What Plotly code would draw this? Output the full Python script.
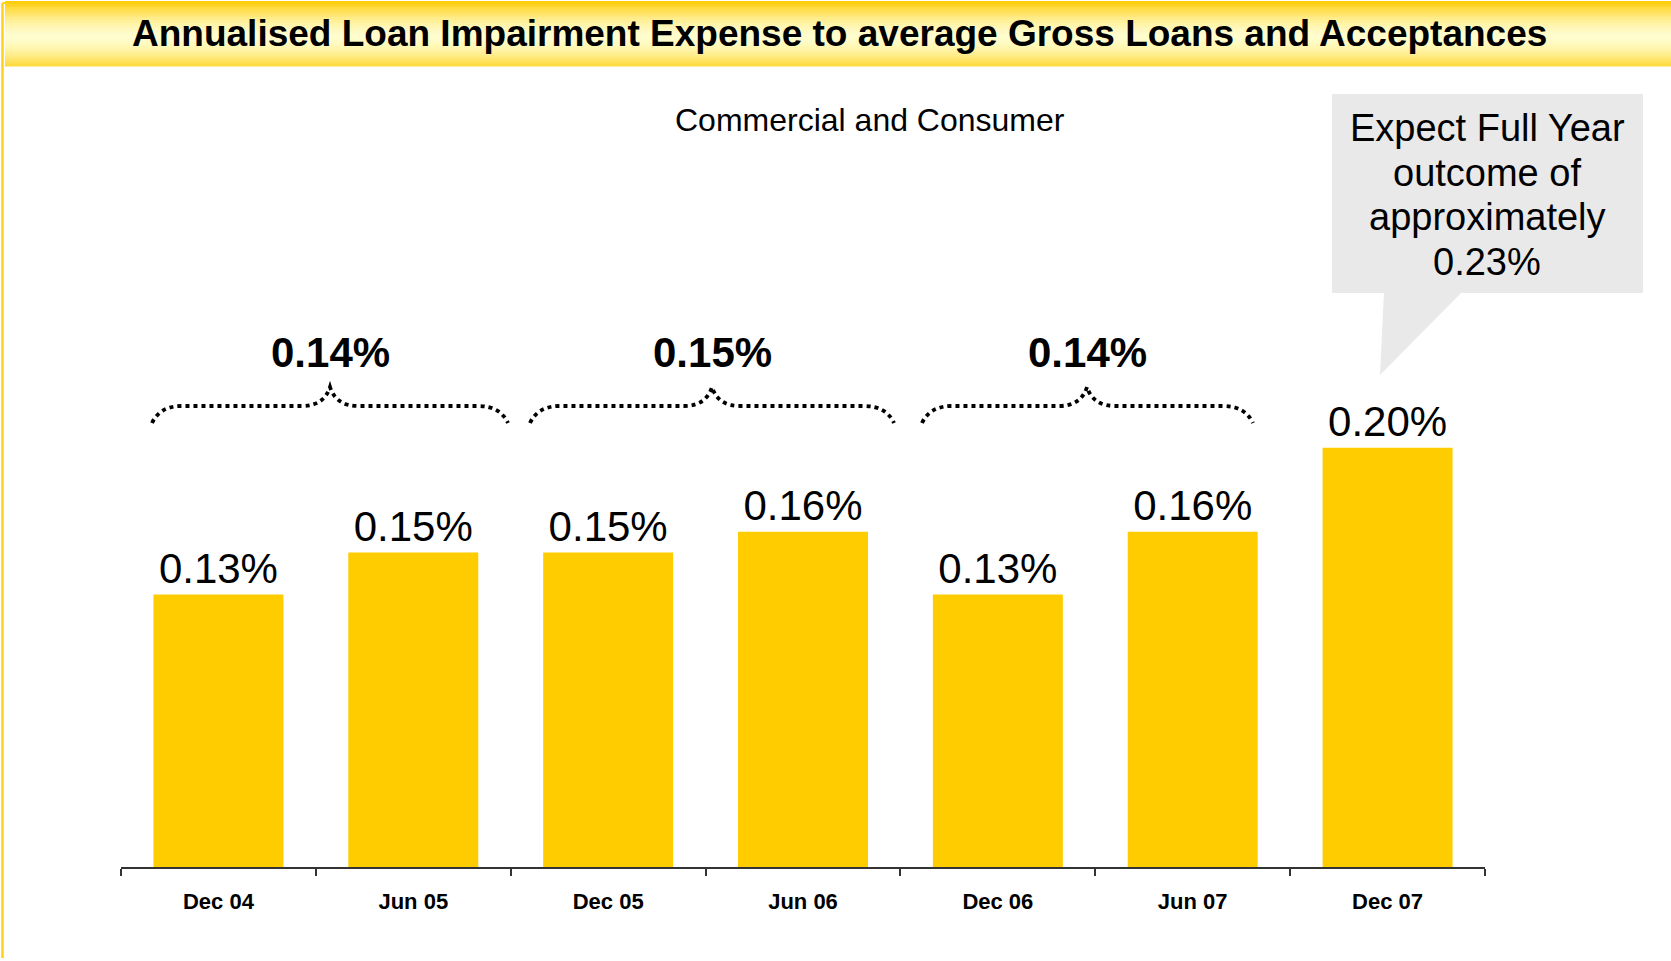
import plotly.graph_objects as go

# ---- data ----
periods = ["Dec 04", "Jun 05", "Dec 05", "Jun 06", "Dec 06", "Jun 07", "Dec 07"]
impairment_pct = [0.13, 0.15, 0.15, 0.16, 0.13, 0.16, 0.20]
year_avg_labels = ["0.14%", "0.15%", "0.14%"]
title_text = "Annualised Loan Impairment Expense to average Gross Loans and Acceptances"
subtitle_text = "Commercial and Consumer"
callout_lines = ["Expect Full Year", "outcome of", "approximately", "0.23%"]

# ---- canvas geometry (pixels) ----
W, H = 1671, 961
PLOT_L, PLOT_R, PLOT_B = 121, 1485, 867
PX_PER_UNIT = 2096.0          # vertical pixels per 1.0 percentage point
Y_TOP = PLOT_B / PX_PER_UNIT  # plot area runs from the top edge down to the axis

FONT = "Liberation Sans, Arial, sans-serif"
YELLOW = "#FFCC00"


def px(x):
    return (x - PLOT_L) / (PLOT_R - PLOT_L)


def py(y):
    return (PLOT_B - y) / PLOT_B


fig = go.Figure()
fig.add_trace(go.Bar(
    x=periods,
    y=impairment_pct,
    width=0.667,
    marker=dict(color=YELLOW, line=dict(width=0)),
    text=[f"{v:.2f}%" for v in impairment_pct],
    textposition="outside",
    constraintext="none",
    cliponaxis=False,
    textfont=dict(family=FONT, size=42, color="black"),
    hoverinfo="skip",
))

shapes = []
annotations = []

# header band with a vertical yellow gradient
bar_top, bar_bot, n = 1.0, 66.0, 44
edge = (255, 202, 0)
mid = (255, 253, 206)
for k in range(n):
    t = (k + 0.5) / n
    d = abs(t - 0.55) / 0.55
    f = max(0.0, 1 - d ** 1.6)
    c = tuple(round(e + (m - e) * f) for e, m in zip(edge, mid))
    y0 = bar_top + k * (bar_bot - bar_top) / n
    y1 = y0 + (bar_bot - bar_top) / n + 0.6
    shapes.append(dict(type="rect", xref="paper", yref="paper",
                       x0=px(5), x1=px(W), y0=py(y1), y1=py(y0),
                       fillcolor=f"rgb{c}", line=dict(width=0), layer="above"))

# thin yellow rule down the left edge
shapes.append(dict(type="line", xref="paper", yref="paper",
                   x0=px(2.5), x1=px(2.5), y0=py(958), y1=py(3),
                   line=dict(color="#FFD21A", width=2.5)))
shapes.append(dict(type="line", xref="paper", yref="paper",
                   x0=px(2.5), x1=px(6), y0=py(3), y1=py(3),
                   line=dict(color="#FFD21A", width=2)))

annotations.append(dict(text=f"<b>{title_text}</b>", xref="paper", yref="paper",
                        x=px(839), y=py(34), xanchor="center", yanchor="middle",
                        showarrow=False, font=dict(family=FONT, size=37, color="black")))
annotations.append(dict(text=subtitle_text, xref="paper", yref="paper",
                        x=px(870), y=py(120), xanchor="center", yanchor="middle",
                        showarrow=False, font=dict(family=FONT, size=32, color="black")))


# dotted curly braces grouping each calendar year
def brace(x0, xm, x1, y_end=423, y_flat=406, y_tip=387):
    def P(x, y):
        return f"{px(x):.5f},{py(y):.5f}"
    return (f"M {P(x0, y_end)} Q {P(x0 + 8, y_flat)} {P(x0 + 30, y_flat)} "
            f"L {P(xm - 28, y_flat)} Q {P(xm - 6, y_flat)} {P(xm, y_tip)} "
            f"Q {P(xm + 6, y_flat)} {P(xm + 28, y_flat)} "
            f"L {P(x1 - 30, y_flat)} Q {P(x1 - 8, y_flat)} {P(x1, y_end)}")


braces = [(152, 330, 508), (530, 712, 894), (922, 1087, 1253)]
for (x0, xm, x1), lab in zip(braces, year_avg_labels):
    shapes.append(dict(type="path", xref="paper", yref="paper", path=brace(x0, xm, x1),
                       line=dict(color="black", width=3.8, dash="4px,4px")))
    annotations.append(dict(text=f"<b>{lab}</b>", xref="paper", yref="paper",
                            x=px(xm), y=py(352), xanchor="center", yanchor="middle",
                            showarrow=False, font=dict(family=FONT, size=42, color="black")))

# grey speech-bubble callout
shapes.append(dict(type="rect", xref="paper", yref="paper",
                   x0=px(1332), x1=px(1643), y0=py(293), y1=py(94),
                   fillcolor="#E9E9E9", line=dict(width=0)))
shapes.append(dict(type="path", xref="paper", yref="paper",
                   path=(f"M {px(1384):.5f},{py(292):.5f} L {px(1462):.5f},{py(292):.5f} "
                         f"L {px(1380):.5f},{py(375):.5f} Z"),
                   fillcolor="#E9E9E9", line=dict(width=0)))
for i, line in enumerate(callout_lines):
    annotations.append(dict(text=line, xref="paper", yref="paper",
                            x=px(1487), y=py(128 + 44.7 * i), xanchor="center", yanchor="middle",
                            showarrow=False, font=dict(family=FONT, size=38, color="black")))

fig.update_layout(
    width=W, height=H,
    margin=dict(l=PLOT_L, r=W - PLOT_R, t=0, b=H - PLOT_B, pad=0),
    paper_bgcolor="white",
    plot_bgcolor="rgba(0,0,0,0)",
    showlegend=False,
    bargap=0.333,
    shapes=shapes,
    annotations=annotations,
    xaxis=dict(
        type="category", range=[-0.5, 6.5], showgrid=False, zeroline=False,
        showline=True, linecolor="#333333", linewidth=1.6,
        ticks="outside", tickson="boundaries", ticklen=7, tickwidth=1.6, tickcolor="#333333",
        tickfont=dict(family=FONT, size=22, color="black", weight="bold"),
        ticklabelstandoff=14, fixedrange=True,
    ),
    yaxis=dict(range=[0, Y_TOP], visible=False, fixedrange=True),
)

fig.write_html("out.html")
